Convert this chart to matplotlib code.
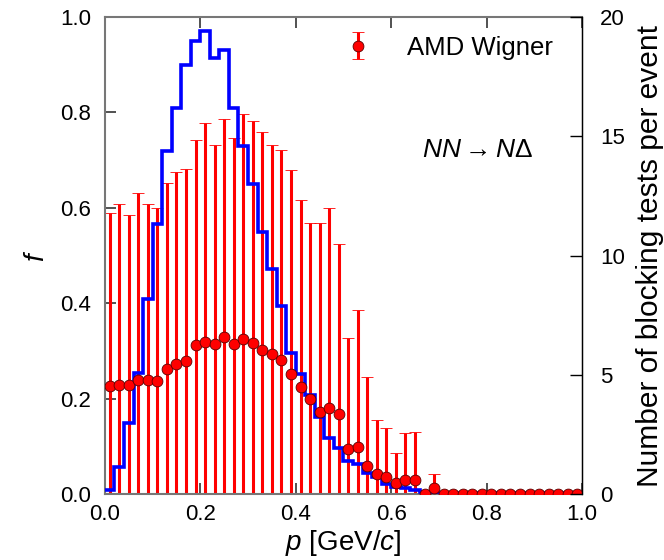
import numpy as np
import matplotlib
matplotlib.use("Agg")
import matplotlib.pyplot as plt
from matplotlib.container import ErrorbarContainer
from matplotlib.legend_handler import HandlerErrorbar

plt.rcParams["font.family"] = ["Liberation Sans", "DejaVu Sans"]
plt.rcParams["mathtext.fontset"] = "custom"
plt.rcParams["mathtext.rm"] = "Liberation Sans"
plt.rcParams["mathtext.it"] = "Liberation Sans:italic"

# momentum binning
p_min, p_max, n_bins = 0.0, 1.0, 50

# occupation probability f per momentum bin (AMD Wigner)
f_vals = [0.226, 0.228, 0.228, 0.239, 0.240, 0.237, 0.262, 0.273, 0.279, 0.312,
          0.320, 0.315, 0.329, 0.315, 0.325, 0.317, 0.302, 0.294, 0.281, 0.252,
          0.225, 0.199, 0.172, 0.180, 0.169, 0.095, 0.099, 0.060, 0.043, 0.036,
          0.023, 0.029, 0.029, 0.000, 0.013, 0.000, 0.000, 0.000, 0.000, 0.000,
          0.000, 0.000, 0.000, 0.000, 0.000, 0.000, 0.000, 0.000, 0.000, 0.000]

# uncertainty of f per bin
f_errs = [0.363, 0.380, 0.358, 0.392, 0.368, 0.363, 0.390, 0.402, 0.403, 0.431,
          0.457, 0.416, 0.457, 0.432, 0.471, 0.465, 0.457, 0.437, 0.440, 0.428,
          0.391, 0.369, 0.396, 0.420, 0.356, 0.232, 0.287, 0.185, 0.113, 0.102,
          0.063, 0.100, 0.102, 0.000, 0.030, 0.000, 0.000, 0.000, 0.000, 0.000,
          0.000, 0.000, 0.000, 0.000, 0.000, 0.000, 0.000, 0.000, 0.000, 0.000]

# number of blocking tests per event in each bin
n_tests = [0.18, 1.16, 3.00, 5.08, 8.18, 11.34, 14.40, 16.20, 18.00, 19.00,
           19.40, 18.30, 18.60, 16.20, 14.60, 13.00, 11.00, 9.45, 7.90, 5.94,
           5.05, 4.17, 3.26, 2.37, 1.96, 1.40, 1.26, 0.88, 0.74, 0.44,
           0.32, 0.26, 0.20, 0.08, 0.06, 0.05, 0.05, 0.04, 0.04, 0.04,
           0.04, 0.04, 0.04, 0.04, 0.04, 0.04, 0.04, 0.04, 0.04, 0.04]

x_ticks = [0.0, 0.2, 0.4, 0.6, 0.8, 1.0]
y_ticks = [0.0, 0.2, 0.4, 0.6, 0.8, 1.0]
y2_ticks = [0, 5, 10, 15, 20]

edges = np.linspace(p_min, p_max, n_bins + 1)
centers = 0.5 * (edges[:-1] + edges[1:])

fig = plt.figure(figsize=(6.64, 5.60), dpi=100)
ax = fig.add_axes([0.158, 0.1173, 0.7185, 0.8523])
ax2 = ax.twinx()
ax2.set_ylim(0, 20)

# error bars for f
eb = ax.errorbar(centers, f_vals, yerr=f_errs, fmt="o", color="red",
                 ecolor="red", elinewidth=2.2, capsize=4.0, capthick=1.3,
                 markersize=7.8, markerfacecolor="red", markeredgecolor="#5a0000",
                 markeredgewidth=0.6, label="AMD Wigner")
data_line, caplines, barcols = eb
for c in caplines:
    c.set_zorder(2)
for b in barcols:
    b.set_zorder(2)
data_line.set_zorder(5)

# blocking-test histogram, on the right-hand scale
ax.stairs(n_tests, edges, baseline=None, color="blue", linewidth=2.6,
          transform=ax2.transData, zorder=3)

ax.set_xlim(p_min, p_max)
ax.set_ylim(0, 1)
ax.set_xticks(x_ticks)
ax.set_xticklabels([f"{v:.1f}" for v in x_ticks])
ax.set_yticks(y_ticks)
ax.set_yticklabels([f"{v:.1f}" for v in y_ticks])
ax2.set_yticks(y2_ticks)
ax2.set_yticklabels([str(v) for v in y2_ticks])

ax.tick_params(direction="in", length=8, width=1.2, colors="#333333",
               labelcolor="black", labelsize=16, top=True, right=False)
ax.tick_params(axis="x", pad=7)
ax.tick_params(axis="y", pad=10)
ax2.tick_params(direction="in", length=9, width=1.0, labelsize=16, pad=13)

for s in ["left", "bottom", "top"]:
    ax.spines[s].set_color("#777777")
    ax.spines[s].set_linewidth(1.5)
ax2.spines["right"].set_color("black")
ax2.spines["right"].set_linewidth(1.0)
for s in ["left", "bottom", "top"]:
    ax2.spines[s].set_visible(False)

ax.set_xlabel(r"$p$ [GeV/$c$]", fontsize=20, labelpad=2)
ax.set_ylabel(r"$f$", fontsize=20, labelpad=7)
ax2.set_ylabel("Number of blocking tests per event", fontsize=21.5, labelpad=8)

ax.text(0.78, 0.722, r"$NN\rightarrow N\Delta$", transform=ax.transAxes,
        ha="center", va="center", fontsize=19)

ax.legend(loc="center right", bbox_to_anchor=(0.965, 0.936), frameon=False,
          fontsize=18.5, handlelength=2.2, handletextpad=0.8, borderpad=0,
          handler_map={ErrorbarContainer: HandlerErrorbar(xerr_size=0.52)})

fig.savefig("out.png", dpi=100)
